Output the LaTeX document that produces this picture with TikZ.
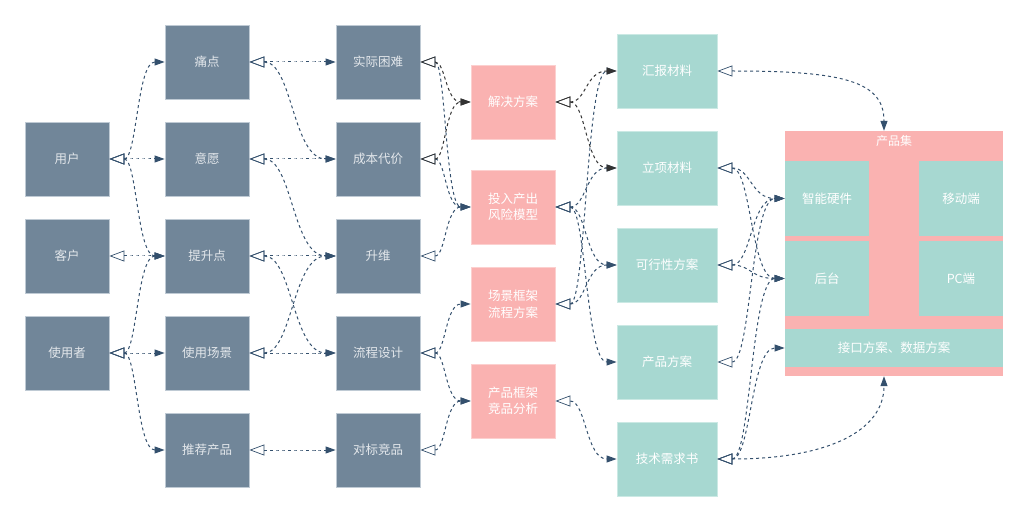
\documentclass[tikz,border=0pt]{standalone}
\usepackage{fontspec}
\newfontfamily\cjk{Noto Sans CJK SC}
\usetikzlibrary{arrows.meta,calc}
\definecolor{cslate}{HTML}{718699}
\definecolor{cslateline}{HTML}{BFCAD4}
\definecolor{cslatetext}{HTML}{E3E7EB}
\definecolor{cpink}{HTML}{FAB2B1}
\definecolor{cpinkline}{HTML}{FCD0CF}
\definecolor{cteal}{HTML}{A7D8D1}
\definecolor{ctealline}{HTML}{CBE9E4}
\definecolor{clink}{HTML}{34506D}
\definecolor{cdark}{HTML}{333333}
\tikzset{
  box/.style={minimum width=84pt,minimum height=74pt,inner sep=0pt,align=center,
    font=\cjk\fontsize{12.5}{16.5}\selectfont,line width=.8pt},
  greybox/.style={box,fill=cslate,draw=cslateline,text=cslatetext},
  pinkbox/.style={box,fill=cpink,draw=cpinkline,text=white},
  tealbox/.style={box,fill=cteal,draw=ctealline,text=white},
  link/.style={draw=clink,line width=1pt,dash pattern=on 3pt off 3pt,
    arrows={Triangle[open,length=15pt,width=11pt,line width=.7pt]-Triangle[length=10pt,width=7pt]},
    to path={let \p1=(\tikztostart),\p2=(\tikztotarget) in
      .. controls ({(\x1+\x2)/2},\y1) and ({(\x1+\x2)/2},\y2) .. (\tikztotarget)}},
  darklink/.style={link,draw=cdark},
}
\begin{document}
\begin{tikzpicture}[x=1pt,y=-1pt]
\useasboundingbox (0,0) rectangle (1028,521);
\foreach \nm/\yy/\txt in {yonghu/159/用户,kehu/256/客户,shiyongzhe/353/使用者}
  \node[greybox] (\nm) at (67,\yy) {\txt};
\foreach \nm/\yy/\txt in {tongdian/62/痛点,yiyuan/159/意愿,tisheng/256/提升点,changjing/353/使用场景,tuijian/450/推荐产品}
  \node[greybox] (\nm) at (207,\yy) {\txt};
\foreach \nm/\yy/\txt in {kunnan/62/实际困难,chengben/159/成本代价,shengwei/256/升维,liucheng/353/流程设计,duibiao/450/对标竞品}
  \node[greybox] (\nm) at (378,\yy) {\txt};
\foreach \nm/\yy/\txt in {jiejue/102/解决方案,touru/207/投入产出\\风险模型,kuangjia/304/场景框架\\流程方案,jingpin/401/产品框架\\竞品分析}
  \node[pinkbox] (\nm) at (513,\yy) {\txt};
\foreach \nm/\yy/\txt in {huibao/71/汇报材料,lixiang/168/立项材料,kexing/265/可行性方案,fangan/362/产品方案,jishu/459/技术需求书}
  \node[tealbox,minimum width=100pt] (\nm) at (667,\yy) {\txt};

\node[fill=cpink,minimum width=218pt,minimum height=245pt,inner sep=0pt] (jihe) at (894,253.5) {};
\node[font=\cjk\fontsize{12}{14}\selectfont,text=white] (jihetitle) at (894,141) {产品集};
\node[tealbox,draw=none,minimum height=75pt] (yingjian) at (827,198.5) {智能硬件};
\node[tealbox,draw=none,minimum height=75pt] (yidong) at (961,198.5) {移动端};
\node[tealbox,draw=none,minimum height=75pt] (houtai) at (827,278.5) {后台};
\node[tealbox,draw=none,minimum height=75pt] (pc) at (961,278.5) {PC端};
\node[tealbox,draw=none,minimum width=218pt,minimum height=38pt] (jiekou) at (894,348) {接口方案、数据方案};

\foreach \a/\b in {yonghu/tongdian,yonghu/yiyuan,yonghu/tisheng,kehu/tisheng,shiyongzhe/tisheng,shiyongzhe/changjing,shiyongzhe/tuijian,
  tongdian/kunnan,tongdian/chengben,yiyuan/chengben,yiyuan/shengwei,tisheng/shengwei,tisheng/liucheng,changjing/shengwei,changjing/liucheng,tuijian/duibiao,
  kunnan/touru,chengben/touru,shengwei/touru,liucheng/kuangjia,liucheng/jingpin,duibiao/jingpin,
  touru/lixiang,touru/kexing,touru/fangan,kuangjia/huibao,kuangjia/kexing,jingpin/jishu,
  lixiang/yingjian,lixiang/houtai,kexing/yingjian,kexing/houtai,fangan/yingjian,jishu/houtai,jishu/jiekou}
  \draw[link] (\a.east) to (\b.west);
\foreach \a/\b in {kunnan/jiejue,chengben/jiejue,jiejue/huibao,jiejue/lixiang}
  \draw[darklink] (\a.east) to (\b.west);
\draw[link] (huibao.east) .. controls +(125,0) and +(0,-50) .. ([xshift=-10pt]jihe.north);
\draw[link] (jishu.east) .. controls +(110,0) and +(0,55) .. ([xshift=-10pt]jihe.south);
\end{tikzpicture}
\end{document}
